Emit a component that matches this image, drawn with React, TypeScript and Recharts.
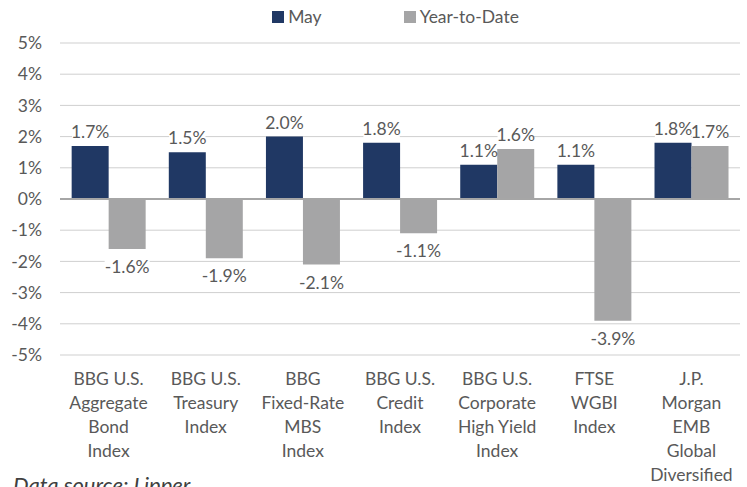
import React from 'react';
import { BarChart, Bar, XAxis, YAxis, CartesianGrid, Legend, LabelList, ReferenceLine } from 'recharts';

const categories = [
    ['BBG U.S.', 'Aggregate', 'Bond', 'Index'],
    ['BBG U.S.', 'Treasury', 'Index'],
    ['BBG', 'Fixed-Rate', 'MBS', 'Index'],
    ['BBG U.S.', 'Credit', 'Index'],
    ['BBG U.S.', 'Corporate', 'High Yield', 'Index'],
    ['FTSE', 'WGBI', 'Index'],
    ['J.P.', 'Morgan', 'EMB', 'Global', 'Diversified'],
];
const mayValues = [1.7, 1.5, 2.0, 1.8, 1.1, 1.1, 1.8];
const ytdValues = [-1.6, -1.9, -2.1, -1.1, 1.6, -3.9, 1.7];
const yTicks = [-5, -4, -3, -2, -1, 0, 1, 2, 3, 4, 5];

const chartData = categories.map((lines, i) => ({
    name: lines.join(' '),
    may: mayValues[i],
    ytd: ytdValues[i],
}));

const FONT = 'Lato, "Open Sans", sans-serif';
const TEXT = '#595959';
const NAVY = '#203864';
const GREY = '#a5a5a6';

const CategoryTick = (props: any) => {
    const { x, y, payload } = props;
    const lines = categories[payload.index] || [];
    return (
        <text x={x} y={y} textAnchor="middle" fill={TEXT} fontSize={17.5} fontFamily={FONT}>
            {lines.map((l, i) => (
                <tspan key={i} x={x} dy={i === 0 ? 22 : 24}>{l}</tspan>
            ))}
        </text>
    );
};

const ValueLabel = (props: any) => {
    const { x, y, width, height, value } = props;
    const top = Math.min(y, y + height);
    const bottom = Math.max(y, y + height);
    const cx = x + width / 2;
    const cy = value >= 0 ? top - 14 : bottom + 18;
    const txt = `${value.toFixed(1)}%`;
    const w = txt.length * 8.6;
    return (
        <g>
            <rect x={cx - w / 2 - 1} y={cy - 9} width={w + 2} height={18} fill="#fff" />
            <text x={cx} y={cy} dy={6} textAnchor="middle" fill={TEXT} fontSize={17.5} fontFamily={FONT}>
                {txt}
            </text>
        </g>
    );
};

const LegendContent = () => (
    <div style={{ display: 'flex', justifyContent: 'center', gap: 82, fontFamily: FONT, fontSize: 17.5, color: TEXT, marginLeft: 44 }}>
        <div style={{ display: 'flex', alignItems: 'center' }}>
            <span style={{ width: 12, height: 12, background: NAVY, display: 'inline-block', marginRight: 4 }} />
            May
        </div>
        <div style={{ display: 'flex', alignItems: 'center' }}>
            <span style={{ width: 12, height: 12, background: GREY, display: 'inline-block', marginRight: 4 }} />
            Year-to-Date
        </div>
    </div>
);

export default function App() {
    return (
        <div style={{ position: 'absolute', left: 0, top: 0, width: 747, height: 487, background: '#fff', overflow: 'hidden' }}>
            <BarChart
                width={747}
                height={487}
                data={chartData}
                margin={{ top: 43, right: 7, left: 0, bottom: 0 }}
                barCategoryGap="12%"
                barGap={0}
            >
                <CartesianGrid vertical={false} stroke="#cfcfcf" />
                <XAxis
                    dataKey="name"
                    axisLine={false}
                    tickLine={false}
                    height={132}
                    interval={0}
                    tick={<CategoryTick />}
                />
                <YAxis
                    domain={[-5, 5]}
                    ticks={yTicks}
                    width={60}
                    axisLine={false}
                    tickLine={false}
                    tickSize={0}
                    tickMargin={18}
                    tickFormatter={(v: number) => `${v}%`}
                    tick={{ fill: TEXT, fontSize: 17.5, fontFamily: FONT }}
                />
                <Legend verticalAlign="middle" align="center" wrapperStyle={{ top: 6, left: 0, width: 747 }} content={<LegendContent />} />
                <Bar dataKey="may" fill={NAVY} isAnimationActive={false}>
                    <LabelList dataKey="may" content={<ValueLabel />} />
                </Bar>
                <Bar dataKey="ytd" fill={GREY} isAnimationActive={false}>
                    <LabelList dataKey="ytd" content={<ValueLabel />} />
                </Bar>
                <ReferenceLine y={0} stroke="#a6a6a6" strokeWidth={2} />
            </BarChart>
            <div style={{ position: 'absolute', left: 13, top: 471, fontFamily: FONT, fontStyle: 'italic', fontSize: 22, color: '#404040', whiteSpace: 'nowrap' }}>
                Data source: Lipper
            </div>
        </div>
    );
}
